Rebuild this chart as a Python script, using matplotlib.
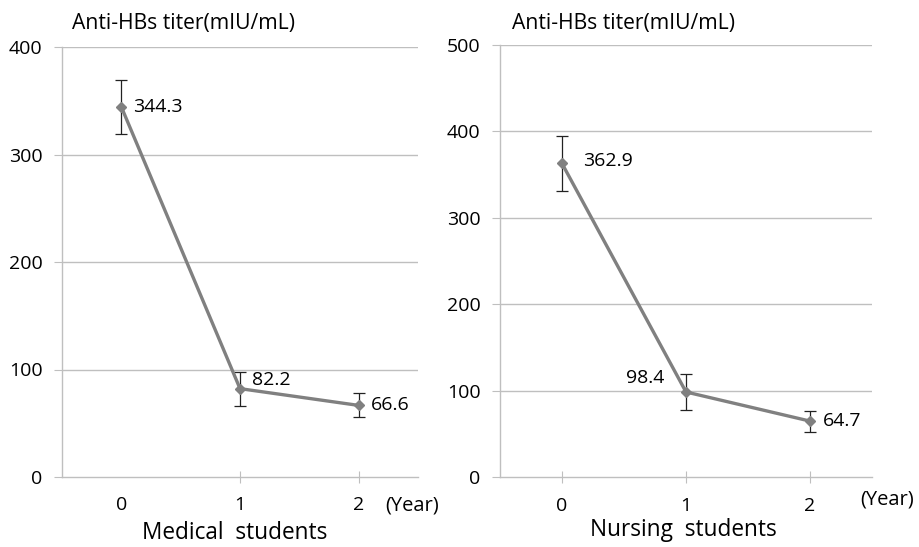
import matplotlib
matplotlib.use("Agg")
import matplotlib.pyplot as plt

plt.rcParams['font.family'] = ['Open Sans', 'DejaVu Sans']

years = [0, 1, 2]
med_values = [344.3, 82.2, 66.6]
med_err = [25.0, 15.8, 11.2]
nurse_values = [362.9, 98.4, 64.7]
nurse_err = [32.0, 21.0, 12.2]
med_yticks = [0, 100, 200, 300, 400]
nurse_yticks = [0, 100, 200, 300, 400, 500]
ylabel_text = "Anti-HBs titer(mIU/mL)"
panel_names = ["Medical  students", "Nursing  students"]

W, H = 919, 547
fig = plt.figure(figsize=(W / 100, H / 100), dpi=100)

def box(x0, y0, x1, y1):
    return [x0 / W, 1 - y1 / H, (x1 - x0) / W, (y1 - y0) / H]

ax1 = fig.add_axes(box(62, 47, 418, 477))
ax2 = fig.add_axes(box(500, 45, 872, 477))

line_c = '#808080'
grid_c = '#bfbfbf'
FS = 14

def style(ax, yt, xt):
    ax.set_xlim(-0.5, 2.5)
    ax.set_ylim(0, yt[-1])
    ax.set_yticks(yt)
    ax.set_xticks(xt)
    ax.set_xticklabels([])
    for v in yt[1:]:
        ax.axhline(v, color=grid_c, lw=1.0, zorder=0)
    for s in ['top', 'right']:
        ax.spines[s].set_visible(False)
    for s in ['left', 'bottom']:
        ax.spines[s].set_color(grid_c)
        ax.spines[s].set_linewidth(1.0)
    ax.tick_params(axis='y', direction='out', length=6, color=grid_c,
                   labelsize=FS, pad=8)
    ax.tick_params(axis='x', direction='inout', length=9, color=grid_c)
    for i in years:
        ax.text(i, -0.066, str(i), transform=ax.get_xaxis_transform(),
                ha='center', va='center', fontsize=FS, clip_on=False)

def plot_panel(ax, vals, errs):
    ax.errorbar(years, vals, yerr=errs, color=line_c, lw=2.4, marker='D',
                ms=5, mfc=line_c, mec=line_c, ecolor='#222222', elinewidth=0.9,
                capsize=4, capthick=0.9, zorder=3)

style(ax1, med_yticks, [1, 2])
style(ax2, nurse_yticks, [0, 1, 2])
plot_panel(ax1, med_values, med_err)
plot_panel(ax2, nurse_values, nurse_err)

def label(ax, x, y, dx_px, dy_px, ha):
    ax.annotate(f"{y}", (x, y), xytext=(dx_px * 0.72, dy_px * 0.72),
                textcoords='offset points', ha=ha, va='center', fontsize=FS)

label(ax1, years[0], med_values[0], 12, 0, 'left')
label(ax1, years[1], med_values[1], 12, 9, 'left')
label(ax1, years[2], med_values[2], 12, 0, 'left')
label(ax2, years[0], nurse_values[0], 21, 2, 'left')
label(ax2, years[1], nurse_values[1], -22, 14, 'right')
label(ax2, years[2], nurse_values[2], 13, 0, 'left')

# axis titles
fig.text(72 / W, 1 - 23 / H, ylabel_text, ha='left', va='center', fontsize=15.2)
fig.text(512 / W, 1 - 23 / H, ylabel_text, ha='left', va='center', fontsize=15.2)

# (Year) labels
fig.text(412 / W, 1 - 505 / H, "(Year)", ha='center', va='center', fontsize=14.5)
fig.text(887 / W, 1 - 499 / H, "(Year)", ha='center', va='center', fontsize=14.5)

# panel names
fig.text(235 / W, 1 - 533 / H, panel_names[0], ha='center', va='center', fontsize=16.3)
fig.text(683.5 / W, 1 - 530 / H, panel_names[1], ha='center', va='center', fontsize=16.3)

fig.savefig("out.png", dpi=100)
